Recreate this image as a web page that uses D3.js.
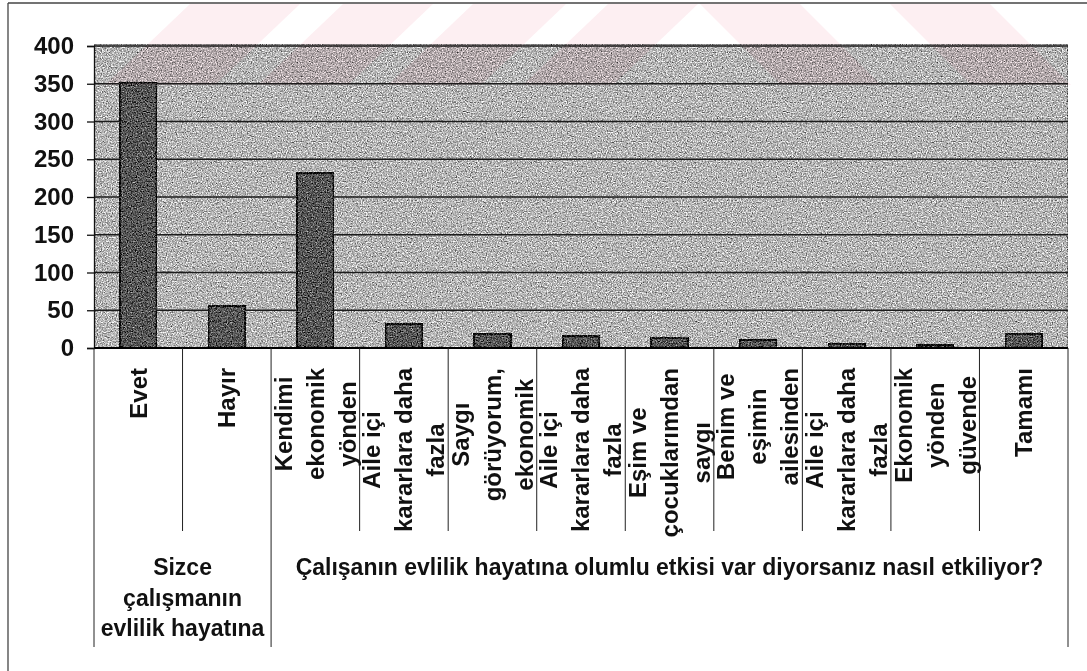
<!DOCTYPE html>
<html>
<head>
<meta charset="utf-8">
<script src="https://cdn.jsdelivr.net/npm/d3@7"></script>
<style>
body{margin:0;background:#fff}
svg{display:block}
text{font-family:"Liberation Sans",Arial,sans-serif;font-weight:bold;fill:#111}
</style>
</head>
<body>
<svg id="chart" width="1087" height="671"></svg>
<script>
// category labels, one array of wrapped lines per bar
var categoryLines = [
    ["Evet"],
    ["Hayır"],
    ["Kendimi", "ekonomik", "yönden"],
    ["Aile içi", "kararlara daha", "fazla"],
    ["Saygı", "görüyorum,", "ekonomik"],
    ["Aile içi", "kararlara daha", "fazla"],
    ["Eşim ve", "çocuklarımdan", "saygı"],
    ["Benim ve", "eşimin", "ailesinden"],
    ["Aile içi", "kararlara daha", "fazla"],
    ["Ekonomik", "yönden", "güvende"],
    ["Tamamı"]
]
var counts = [352, 56, 232, 32, 19, 16, 14, 11, 6, 4, 19]
var yTicks = [0, 50, 100, 150, 200, 250, 300, 350, 400]
var groupLabels = [
    ["Sizce", "çalışmanın", "evlilik hayatına"],
    ["Çalışanın evlilik hayatına olumlu etkisi var diyorsanız nasıl etkiliyor?"]
]
var groupSizes = [2, 9]

var svg = d3.select('#chart')
var plotLeft = 94, plotRight = 1068, plotTop = 46, plotBase = 348

var idx = d3.range(counts.length)
var x = d3.scaleBand().domain(idx).range([plotLeft, plotRight]).paddingInner(0.58).paddingOuter(0.29)
var cell = d3.scaleBand().domain(idx).range([plotLeft, plotRight]).padding(0)
var y = d3.scaleLinear().domain([0, 400]).range([plotBase, plotTop])

// grainy scan look
var defs = svg.append('defs')
var f = defs.append('filter').attr('id', 'grain')
    .attr('x', 0).attr('y', 0).attr('width', 1).attr('height', 1)
    .attr('color-interpolation-filters', 'sRGB')
f.append('feTurbulence').attr('type', 'fractalNoise').attr('baseFrequency', 0.8)
    .attr('numOctaves', 2).attr('seed', 4).attr('result', 'noise')
f.append('feColorMatrix').attr('in', 'noise').attr('type', 'matrix')
    .attr('values', '0.6 0.6 0.6 0 -0.4  0.6 0.6 0.6 0 -0.4  0.6 0.6 0.6 0 -0.4  0 0 0 0 1')
    .attr('result', 'gray')
f.append('feComposite').attr('in', 'SourceGraphic').attr('in2', 'gray')
    .attr('operator', 'arithmetic').attr('k1', 0).attr('k2', 1).attr('k3', 1.1).attr('k4', -0.55)
    .attr('result', 'mix')
f.append('feComposite').attr('in', 'mix').attr('in2', 'SourceGraphic').attr('operator', 'in')

// outer frame (left and top edges only, as scanned)
svg.append('line').attr('x1', 8).attr('x2', 8).attr('y1', 3).attr('y2', 671)
    .attr('stroke', '#444').attr('stroke-width', 1.3)
svg.append('line').attr('x1', 8).attr('x2', 1087).attr('y1', 3).attr('y2', 3)
    .attr('stroke', '#444').attr('stroke-width', 1.5)

// plot background
svg.append('rect')
    .attr('x', plotLeft).attr('y', y(400) - 2)
    .attr('width', plotRight - plotLeft).attr('height', plotBase - y(400) + 2)
    .attr('fill', '#b4b4b4').attr('stroke', '#555').attr('stroke-width', 1)
    .attr('filter', 'url(#grain)')

// gridlines
svg.append('g').selectAll('line').data(yTicks.filter(function(d){ return d > 0 }))
    .enter().append('line')
    .attr('x1', plotLeft).attr('x2', plotRight)
    .attr('y1', function(d){ return y(d) }).attr('y2', function(d){ return y(d) })
    .attr('stroke', '#1c1c1c').attr('stroke-width', 1.3)

// bars
svg.append('g').selectAll('rect').data(counts)
    .enter().append('rect')
    .attr('x', function(d, i){ return x(i) })
    .attr('width', x.bandwidth())
    .attr('y', function(d){ return y(d) })
    .attr('height', function(d){ return plotBase - y(d) })
    .attr('fill', '#555555')
    .attr('stroke', '#0a0a0a').attr('stroke-width', 2.4)
    .attr('filter', 'url(#grain)')

// y axis
var yAxis = svg.append('g').attr('transform', 'translate(' + plotLeft + ',0)')
    .call(d3.axisLeft(y).tickValues(yTicks).tickSize(7).tickPadding(13))
yAxis.select('.domain').attr('stroke', '#111').attr('stroke-width', 1.3)
yAxis.selectAll('.tick line').attr('stroke', '#111').attr('stroke-width', 1.3)
yAxis.selectAll('.tick text')
    .attr('font-family', '"Liberation Sans", Arial, sans-serif')
    .attr('font-weight', 'bold').attr('font-size', '24px').attr('fill', '#111')

// x axis base line
svg.append('line').attr('x1', plotLeft).attr('x2', plotRight).attr('y1', plotBase).attr('y2', plotBase)
    .attr('stroke', '#000').attr('stroke-width', 2.2)

// separators between category cells, longer at group edges
var groupEdges = [0]
groupSizes.forEach(function(s){ groupEdges.push(groupEdges[groupEdges.length - 1] + s) })
svg.append('g').selectAll('line').data(d3.range(counts.length + 1))
    .enter().append('line')
    .attr('x1', function(i){ return plotLeft + i * cell.step() })
    .attr('x2', function(i){ return plotLeft + i * cell.step() })
    .attr('y1', plotBase)
    .attr('y2', function(i){ return groupEdges.indexOf(i) >= 0 ? 647 : 531 })
    .attr('stroke', '#222').attr('stroke-width', 1)

// rotated category labels
var labelTop = 368, lineGap = 32
var cats = svg.append('g').selectAll('g').data(categoryLines)
    .enter().append('g')
    .attr('transform', function(d, i){
        return 'translate(' + (cell(i) + cell.bandwidth() / 2) + ',0) rotate(-90)'
    })
cats.each(function(lines){
    var g = d3.select(this)
    var n = lines.length
    var texts = g.selectAll('text').data(lines).enter().append('text')
        .attr('text-anchor', 'middle')
        .attr('font-size', '24px')
        .attr('y', function(d, j){ return (j - (n - 1) / 2) * lineGap })
        .attr('dy', '0.35em')
        .text(function(d){ return d })
    var maxLen = 0
    texts.each(function(){ maxLen = Math.max(maxLen, this.getComputedTextLength()) })
    texts.attr('x', -(labelTop + maxLen / 2))
})

// group labels
var gl = svg.append('g')
groupLabels.forEach(function(lines, k){
    var x0 = plotLeft + groupEdges[k] * cell.step()
    var x1 = plotLeft + groupEdges[k + 1] * cell.step()
    gl.selectAll(null).data(lines).enter().append('text')
        .attr('text-anchor', 'middle')
        .attr('font-size', '23px')
        .attr('x', (x0 + x1) / 2)
        .attr('y', function(d, j){ return 575 + j * 30.5 })
        .text(function(d){ return d })
})

// faint pink watermark stripes from the scan
var wm = svg.append('g').style('mix-blend-mode', 'multiply').attr('fill', '#fcdfe5').attr('opacity', 0.5)
var slashes = [[105, 215], [258, 348], [388, 481], [523, 613]]
slashes.forEach(function(s){
    wm.append('polygon').attr('points', [[s[0], 85], [s[1], 85], [s[1] + 85, 4], [s[0] + 85, 4]].join(' '))
})
var backs = [[700, 800], [890, 990]]
backs.forEach(function(s){
    wm.append('polygon').attr('points', [[s[0], 4], [s[1], 4], [s[1] + 81, 85], [s[0] + 81, 85]].join(' '))
})
</script>
</body>
</html>
